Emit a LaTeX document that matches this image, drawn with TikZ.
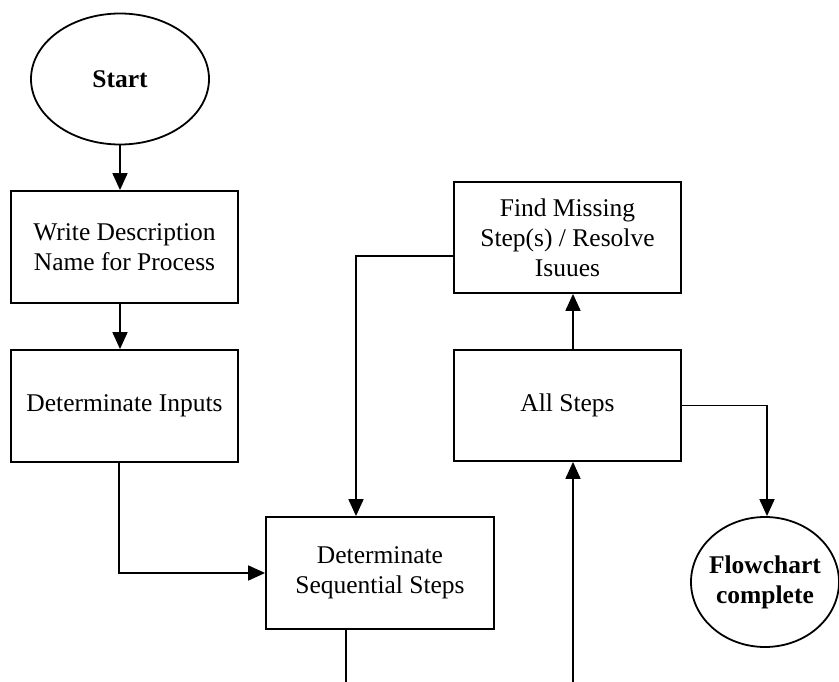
\documentclass[tikz,border=0pt]{standalone}
\usepackage{fontspec}
\setmainfont{Liberation Serif}
\usetikzlibrary{shapes.geometric,arrows.meta,calc}
\begin{document}
\begin{tikzpicture}[x=1pt,y=-1pt,
  every node/.style={font=\fontsize{25.5}{30}\selectfont, align=center, inner sep=0pt},
  proc/.style={draw, line width=1.8pt, rectangle, minimum width=227pt, minimum height=112pt},
  term/.style={draw, line width=1.8pt, ellipse},
  termtext/.style={font=\fontsize{25.5}{30}\selectfont\bfseries, align=center},
  conn/.style={line width=1.8pt, -{Triangle[length=17pt,width=15pt]}},
  plain/.style={line width=1.8pt}]
\useasboundingbox (0,0) rectangle (839,682);
\node[term, minimum width=178pt, minimum height=131pt, label={[termtext]center:Start}] (start) at (120,79) {};
\node[proc] (write) at (124.5,247) {Write Description\\Name for Process};
\node[proc] (inputs) at (124.5,406) {Determinate Inputs};
\node[proc, minimum width=228pt] (dss) at (380,573) {Determinate\\Sequential Steps};
\node[proc, minimum height=111pt] (find) at (567.5,237.5) {Find Missing\\Step(s) / Resolve\\Isuues};
\node[proc, minimum height=111pt] (all) at (567.5,405.5) {All Steps};
\node[term, minimum width=148pt, minimum height=130pt, label={[termtext]center:Flowchart\\complete}] (flow) at (765,582) {};
\coordinate (c1) at (120,0);
\coordinate (c2) at (119,573);
\coordinate (c3) at (356,256);
\coordinate (c4) at (573,682);
\coordinate (c5) at (346,682);
\coordinate (c6) at (767,405.5);
\draw[conn] (start.south -| c1) -- (c1 |- write.north);
\draw[conn] (write.south -| c1) -- (c1 |- inputs.north);
\draw[conn] (inputs.south -| c2) -- (c2) -- (dss.west);
\draw[conn] (find.west |- c3) -- (c3) -- (c3 |- dss.north);
\draw[conn] (all.north -| c4) -- (find.south -| c4);
\draw[conn] (c4) -- (c4 |- all.south);
\draw[plain] (dss.south -| c5) -- (c5);
\draw[conn] (all.east) -- (c6) -- (c6 |- flow.north);
\end{tikzpicture}
\end{document}
